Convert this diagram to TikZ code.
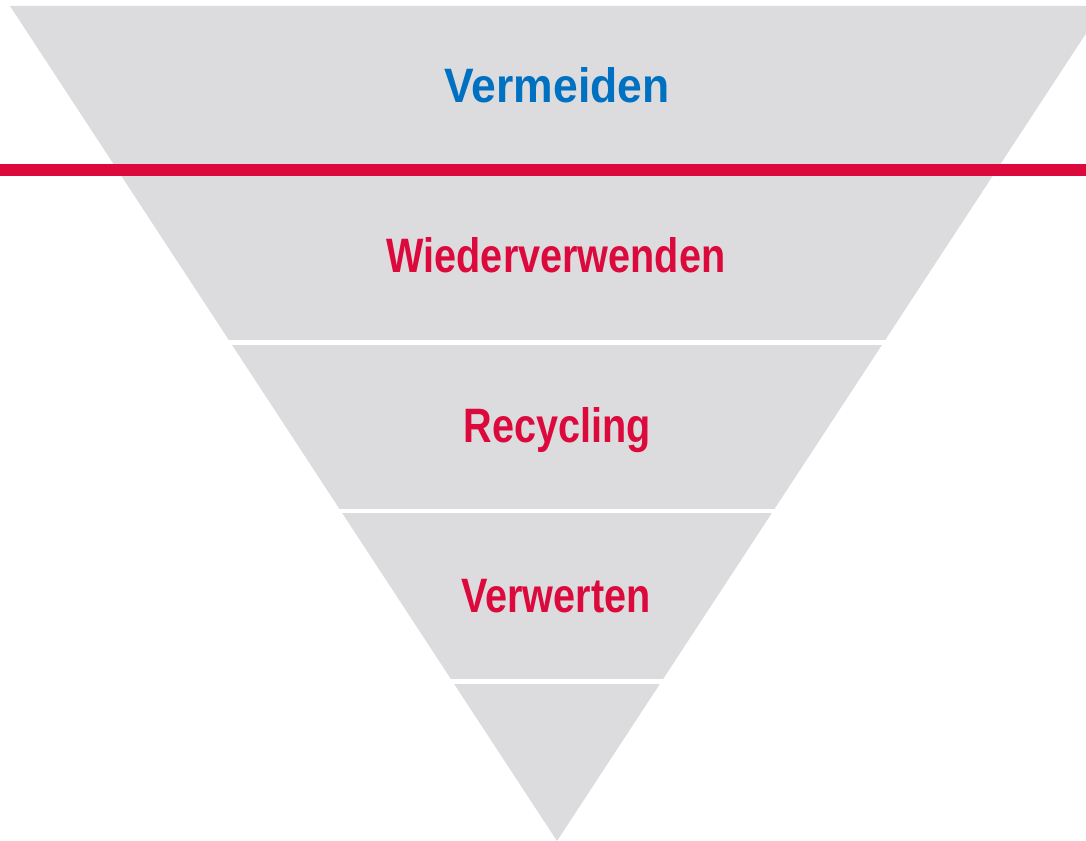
\documentclass[tikz,border=0pt]{standalone}
\usepackage{fontspec}
\setmainfont{Liberation Sans}
\newfontfamily\narrowsf[FakeStretch=0.82]{Liberation Sans}
\newfontfamily\widesf[FakeStretch=0.92]{Liberation Sans}
\usetikzlibrary{positioning}

\definecolor{funnelgray}{RGB}{220,220,222}
\definecolor{stepred}{RGB}{220,10,60}
\definecolor{stepblue}{RGB}{0,112,192}

\begin{document}
\begin{tikzpicture}[x=0.02cm,y=-0.02cm,
  band/.style={fill=funnelgray},
  gap/.style={draw=white,line width=0.09cm},
  level/.style={anchor=base,inner sep=0pt,text=stepred,font=\narrowsf\bfseries\fontsize{27.5}{27.5}\selectfont}]
\useasboundingbox (0,0) rectangle (1086,841);
\clip (0,0) rectangle (1086,841);

% the funnel
\coordinate (tl) at (10,6);
\coordinate (tr) at (1104,6);
\coordinate (tip) at (557,841);
\fill[band] (tl) -- (tr) -- (tip) -- cycle;

% white cuts between the levels
\draw[gap] (0,342.5) -- (1086,342.5);
\draw[gap] (0,511) -- (1086,511);
\draw[gap] (0,681.5) -- (1086,681.5);

% red border line
\draw[stepred,line width=0.24cm] (0,170) -- (1086,170);

\node[level,text=stepblue,font=\widesf\bfseries\fontsize{27.5}{27.5}\selectfont] (avoid) at (557,103) {Vermeiden};
\node[level] (reuse)   at (556,273) {Wiederverwenden};
\node[level] (recycle) at (557,442) {Recycling};
\node[level] (recover) at (556,612) {Verwerten};

\end{tikzpicture}
\end{document}
